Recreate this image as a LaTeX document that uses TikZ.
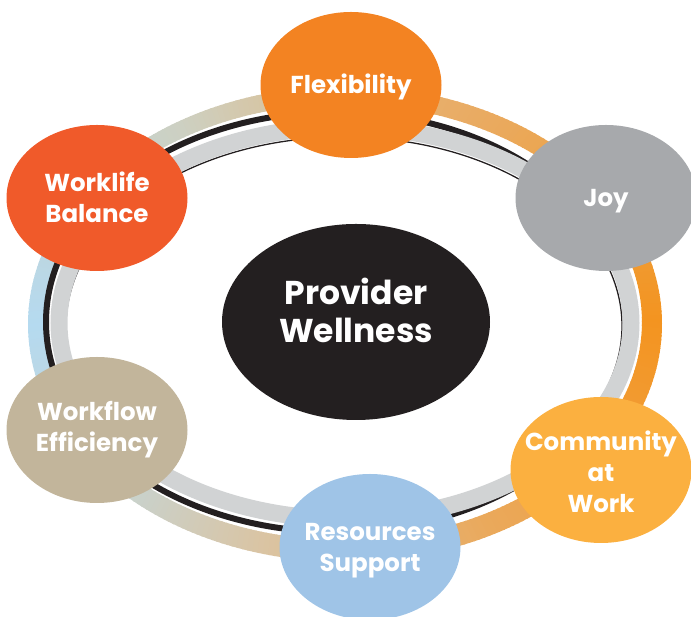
\documentclass[tikz,border=0pt]{standalone}
\usepackage{fontspec}
\setmainfont{Poppins}
\usetikzlibrary{shapes.geometric}

% bubble colours
\definecolor{flexorange}{HTML}{F38322}
\definecolor{joygray}{HTML}{A7A9AC}
\definecolor{balancered}{HTML}{F05A2A}
\definecolor{workflowtan}{HTML}{C2B59B}
\definecolor{communityyellow}{HTML}{FBB040}
\definecolor{resourcesblue}{HTML}{9FC4E7}
\definecolor{hubblack}{HTML}{231F20}
\definecolor{bandgray}{HTML}{D1D3D4}
% colours along the outer band
\definecolor{ringA}{HTML}{F39420}
\definecolor{ringB}{HTML}{E8AE6A}
\definecolor{ringC}{HTML}{D6C6A6}
\definecolor{ringD}{HTML}{CDD0C2}
\definecolor{ringE}{HTML}{B5DAF0}
\definecolor{ringF}{HTML}{C9D2CC}
\definecolor{ringG}{HTML}{DCC29E}
\definecolor{ringH}{HTML}{EAA95C}
\definecolor{ringI}{HTML}{F29A30}

% text that does not widen the ellipse
\newcommand{\bubbletext}[2][-9pt]{\makebox[0pt]{\smash{\raisebox{#1}{\begin{tabular}{@{}c@{}}#2\end{tabular}}}}}

\begin{document}
\begin{tikzpicture}[x=1pt, y=1pt,
    bubble/.style={ellipse, inner sep=0pt, minimum width=181pt, minimum height=146pt,
      text=white, font=\fontsize{24.5}{31}\selectfont\bfseries},
    hub/.style={ellipse, inner sep=0pt, minimum width=268pt, minimum height=196pt,
      fill=hubblack, text=white, font=\fontsize{33}{38}\selectfont\bfseries},
  ]
  \useasboundingbox (0,0) rectangle (691,617);
  % outer band, one piece per degree
  \foreach \a/\b/\ca/\cb in {0/72/ringA/ringB, 72/105/ringB/ringC, 105/121/ringC/ringD,
      121/180/ringD/ringE, 180/227/ringE/ringF, 227/258/ringF/ringG,
      258/297/ringG/ringH, 297/340/ringH/ringI, 340/360/ringI/ringA}{
    \pgfmathtruncatemacro\e{\b-1}
    \foreach \t in {\a,...,\e}{
      \pgfmathsetmacro\p{100*(\b-\t)/(\b-\a)}
      \fill[\ca!\p!\cb] ({345+317*cos(\t)},{293+238*sin(\t)})
        -- ({345+317*cos(\t+1.3)},{293+238*sin(\t+1.3)})
        -- ({343+299*cos(\t+1.3)},{295+218*sin(\t+1.3)})
        -- ({343+299*cos(\t)},{295+218*sin(\t)}) -- cycle;
    }
  }
  % black lines and the gray band
  \draw[hubblack, line width=6pt] (336,295) ellipse [x radius=290, y radius=210];
  \draw[hubblack, line width=1.3pt] (344,291) ellipse [x radius=278, y radius=189];
  \draw[bandgray, line width=17pt] (345,294) ellipse [x radius=286, y radius=196];

  \node[hub] (wellness) at (356,295) {\bubbletext[0pt]{Provider\\Wellness}};
  \node[bubble, fill=flexorange] (flex) at (351,532) {\bubbletext{Flexibility}};
  \node[bubble, fill=joygray] (joy) at (606,419) {\bubbletext{Joy}};
  \node[bubble, fill=balancered] (balance) at (97,419) {\bubbletext{Worklife\\Balance}};
  \node[bubble, fill=workflowtan] (workflow) at (97,187) {\bubbletext[-6pt]{Workflow\\Efficiency}};
  \node[bubble, fill=communityyellow] (community) at (601,147) {\bubbletext[-12pt]{Community\\at\\Work}};
  \node[bubble, fill=resourcesblue] (resources) at (370,70) {\bubbletext{Resources\\Support}};
\end{tikzpicture}
\end{document}
